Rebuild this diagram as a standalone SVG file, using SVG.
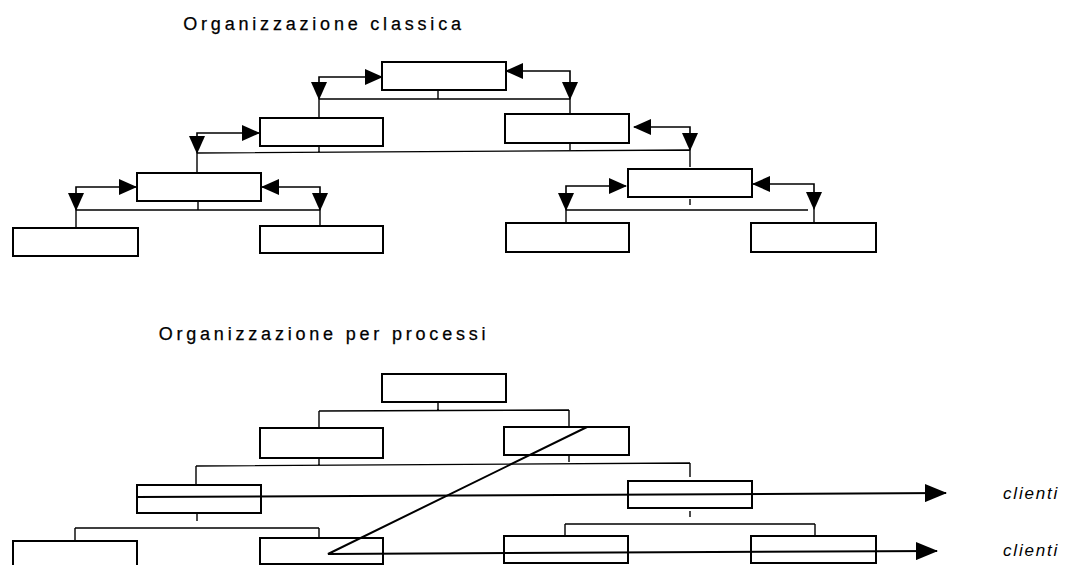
<svg xmlns="http://www.w3.org/2000/svg" width="1068" height="565" viewBox="0 0 1068 565">
<style>
.bg{fill:#ffffff}
.box{fill:#ffffff;stroke:#000;stroke-width:2}
.ln{fill:none;stroke:#000;stroke-width:1.4}
.da{fill:none;stroke:#000;stroke-width:1.6;marker-start:url(#ah);marker-end:url(#ah)}
.pr{fill:none;stroke:#000;stroke-width:2;marker-end:url(#ahp)}
.title{font-family:"Liberation Sans",Arial,sans-serif;font-size:18px;letter-spacing:3.8px;fill:#000;text-anchor:middle;stroke:#000;stroke-width:0.25}
.cl{font-family:"Liberation Sans",Arial,sans-serif;font-size:17px;font-style:italic;letter-spacing:1.8px;fill:#000}
</style>
<defs>
<marker id="ah" markerUnits="userSpaceOnUse" markerWidth="18" markerHeight="16" refX="17" refY="8" orient="auto-start-reverse" viewBox="0 0 18 16">
<path d="M0,0 L18,8 L0,16 Z" fill="#000"/>
</marker>
<marker id="ahp" markerUnits="userSpaceOnUse" markerWidth="22" markerHeight="18" refX="21" refY="9" orient="auto" viewBox="0 0 22 18">
<path d="M0,0 L22,9 L0,18 Z" fill="#000"/>
</marker>
</defs>
<rect class="bg" x="0" y="0" width="1068" height="565"/>

<text class="title" x="324" y="30">Organizzazione classica</text>
<text class="title" x="324" y="340">Organizzazione per processi</text>

<g id="connectors">
<!-- classic tree -->
<path class="ln" d="M438,90 V99 M319,99 H570 M319,99 V118 M570,99 V114"/>
<path class="da" d="M382,77 H319 V99"/>
<path class="da" d="M506,71 H570 V99"/>
<path class="ln" d="M319,146 V153 M570,143 V150 M197,153 L690,150 M197,153 V173 M690,150 V167"/>
<path class="da" d="M259,133 H197 V153"/>
<path class="da" d="M634,127 H690 V150"/>
<path class="ln" d="M198,201 V210 M76,210 H320 M76,210 V228 M320,210 V226"/>
<path class="da" d="M136,187 H76 V210"/>
<path class="da" d="M262,187 H320 V210"/>
<path class="ln" d="M690,199 V205 M566,210 H808 M566,210 V223 M814,209 V223"/>
<path class="da" d="M626,186 H566 V210"/>
<path class="da" d="M753,184 H814 V209"/>
<!-- process tree -->
<path class="ln" d="M438,402 V411 M319,411 L569,410 M319,411 V428 M569,410 V427"/>
<path class="ln" d="M319,458 V466 M569,455 V462 M196,466 L690,463 M196,466 V485 M690,463 V477"/>
<path class="ln" d="M197,513 V521 M75,528 H319 M75,528 V541 M319,528 V538"/>
<path class="ln" d="M690,511 V517 M565,524 H815 M565,524 V536 M815,524 V536"/>
</g>

<g id="nodes-classica">
<g id="c0"><rect class="box" x="382" y="62" width="124" height="28"/></g>
<g id="c1l"><rect class="box" x="260" y="118" width="123" height="28"/></g>
<g id="c1r"><rect class="box" x="505" y="114" width="124" height="29"/></g>
<g id="c2l"><rect class="box" x="137" y="173" width="124" height="28"/></g>
<g id="c2r"><rect class="box" x="628" y="169" width="124" height="28"/></g>
<g id="c3a"><rect class="box" x="13" y="228" width="125" height="28"/></g>
<g id="c3b"><rect class="box" x="260" y="226" width="123" height="27"/></g>
<g id="c3c"><rect class="box" x="506" y="223" width="123" height="29"/></g>
<g id="c3d"><rect class="box" x="751" y="223" width="125" height="29"/></g>
</g>

<g id="nodes-processi">
<g id="p0"><rect class="box" x="382" y="374" width="124" height="28"/></g>
<g id="p1l"><rect class="box" x="260" y="428" width="123" height="30"/></g>
<g id="p1r"><rect class="box" x="504" y="427" width="125" height="28"/></g>
<g id="p2l"><rect class="box" x="137" y="485" width="124" height="28"/></g>
<g id="p2r"><rect class="box" x="628" y="481" width="124" height="27"/></g>
<g id="p3a"><rect class="box" x="13" y="541" width="124" height="30"/></g>
<g id="p3b"><rect class="box" x="260" y="538" width="123" height="26"/></g>
<g id="p3c"><rect class="box" x="504" y="536" width="124" height="27"/></g>
<g id="p3d"><rect class="box" x="751" y="536" width="125" height="27"/></g>
</g>

<g id="process-flows">
<path class="pr" d="M137,497 L946,493"/>
<path class="pr" d="M587,427 L328,554 L937,551"/>
</g>

<g id="labels">
<text class="cl" x="1003" y="499">clienti</text>
<text class="cl" x="1003" y="556">clienti</text>
</g>
</svg>
